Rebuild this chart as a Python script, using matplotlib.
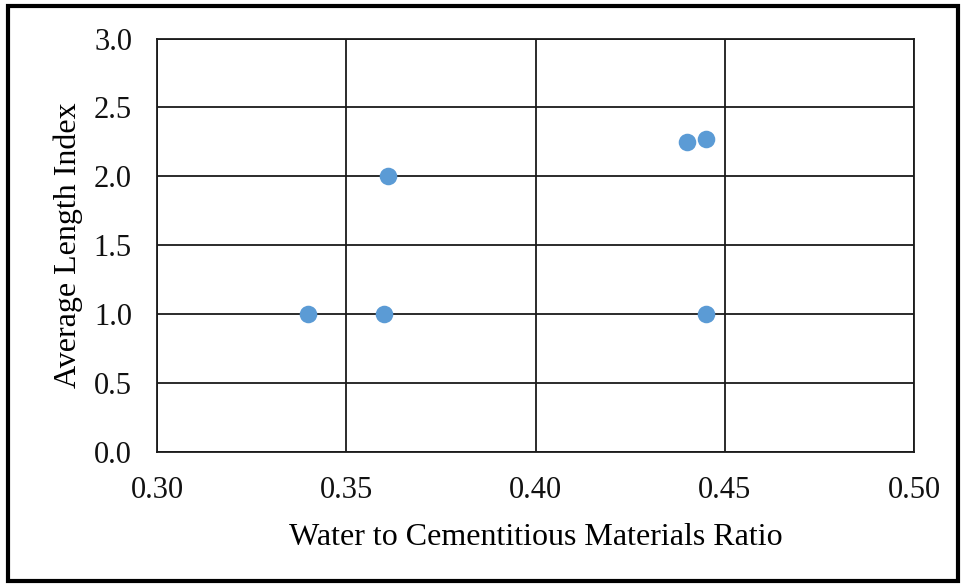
import matplotlib.pyplot as plt
from matplotlib.patches import Rectangle

# water to cementitious materials ratio vs average length index
wcm_ratio = [0.34, 0.36, 0.361, 0.44, 0.445, 0.445]
length_index = [1.0, 1.0, 2.0, 2.25, 2.27, 1.0]

x_ticks = [0.30, 0.35, 0.40, 0.45, 0.50]
y_ticks = [0.0, 0.5, 1.0, 1.5, 2.0, 2.5, 3.0]

plt.rcParams['font.family'] = ['Liberation Serif', 'DejaVu Serif']

fig = plt.figure(figsize=(9.64, 5.84), dpi=100)
ax = fig.add_axes([157 / 964, 1 - 452 / 584, (914 - 157) / 964, (452 - 38.5) / 584])

ax.scatter(wcm_ratio, length_index, s=160, color='#5B9BD5', zorder=3, linewidths=0)

ax.set_xlim(0.30, 0.50)
ax.set_ylim(0.0, 3.0)
ax.set_xticks(x_ticks)
ax.set_xticklabels([f"{v:.2f}" for v in x_ticks])
ax.set_yticks(y_ticks)
ax.set_yticklabels([f"{v:.1f}" for v in y_ticks])
ax.grid(True, color='#1a1a1a', linewidth=1.3)
ax.set_axisbelow(True)
for s in ax.spines.values():
    s.set_color('#1a1a1a')
    s.set_linewidth(1.3)
ax.tick_params(length=0, labelsize=22, colors='#111111')
ax.tick_params(axis='y', pad=18)
ax.tick_params(axis='x', pad=17)

ax.set_xlabel('Water to Cementitious Materials Ratio', fontsize=23, labelpad=13)
ax.set_ylabel('Average Length Index', fontsize=23, labelpad=8)

# outer frame around the picture
fig.patches.append(Rectangle((8 / 964, 3 / 584), 950 / 964, 575 / 584, transform=fig.transFigure,
                             fill=False, edgecolor='black', linewidth=3))

fig.savefig('out.png', dpi=100)
